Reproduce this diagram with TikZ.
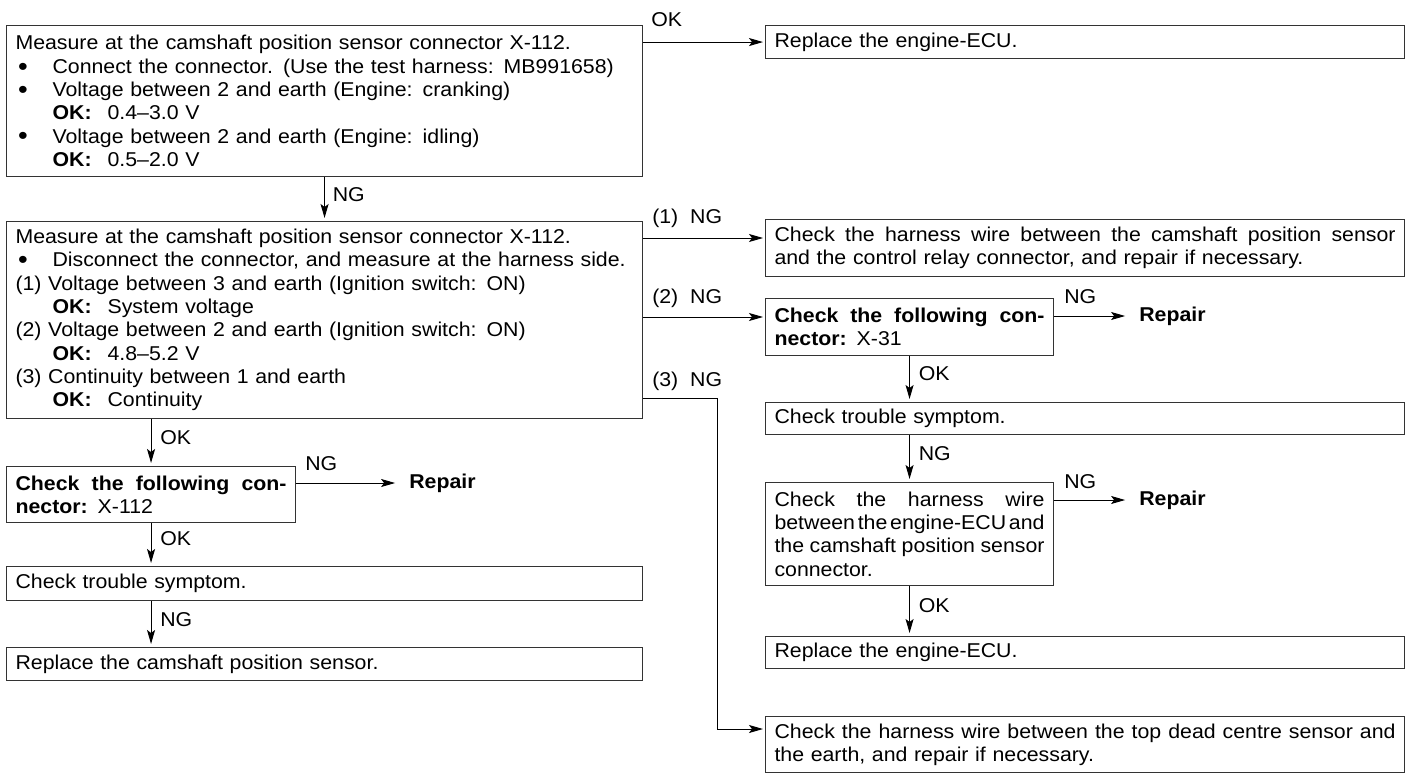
\documentclass[tikz,border=0pt]{standalone}
\usepackage{fontspec}
\setmainfont{Liberation Sans}[WordSpace=2.0, FakeStretch=1.065]
\usetikzlibrary{arrows.meta}
\newcommand{\bul}{\makebox[37pt][l]{\hspace{2.5pt}\smash{\raisebox{-1.8pt}{\fontsize{26}{20}\selectfont\textbullet}}}}
\newcommand{\ind}{\hspace*{37pt}}
\newcommand{\okv}{\textbf{OK:}\hspace{0.8em}}
\newcommand{\jline}[1]{\makebox[\hsize][s]{\spaceskip=0.1em plus 1fil\relax #1}}

\begin{document}
\begin{tikzpicture}[x=1pt, y=-1pt,
  font=\fontsize{20}{23.3}\selectfont,
  chk/.style={draw=black!80, line width=1.1pt, anchor=north west, align=left,
    inner xsep=9pt, inner ysep=0pt},
  arr/.style={-{Stealth[length=14pt,width=8pt,inset=3pt]}, line width=1pt, shorten >=2pt},
  lbl/.style={anchor=base west, inner sep=0pt},
  rep/.style={anchor=west, inner xsep=12pt, font=\fontsize{20}{23.3}\selectfont\bfseries}
]
\useasboundingbox (0,0) rectangle (1413,773);

\node[chk, text width=618pt, minimum height=151pt] (meas1) at (6,25)
  {Measure at the camshaft position sensor connector X-112.\\
   \bul\mbox{Connect the connector. (Use the test harness: MB991658)}\\
   \bul Voltage between 2 and earth (Engine: cranking)\\
   \ind\okv 0.4\textendash3.0 V\\
   \bul Voltage between 2 and earth (Engine: idling)\\
   \ind\okv 0.5\textendash2.0 V};
\node[chk, text width=621pt, minimum height=33pt] (ecu1) at (765,25) {Replace the engine-ECU.};
\node[chk, text width=618pt, minimum height=197pt] (meas2) at (6,221)
  {Measure at the camshaft position sensor connector X-112.\\
   \bul\mbox{Disconnect the connector, and measure at the harness side.}\\
   (1) Voltage between 3 and earth (Ignition switch: ON)\\
   \ind\okv System voltage\\
   (2) Voltage between 2 and earth (Ignition switch: ON)\\
   \ind\okv 4.8\textendash5.2 V\\
   (3) Continuity between 1 and earth\\
   \ind\okv Continuity};
\node[chk, text width=621pt, minimum height=57pt] (wire1) at (765,219)
  {\jline{Check the harness wire between the camshaft position sensor}\\
   and the control relay connector, and repair if necessary.};
\node[chk, text width=270pt, minimum height=57pt] (conn31) at (765,298)
  {\jline{\textbf{Check the following con-}}\\\textbf{nector:} X-31};
\node[chk, text width=621pt, minimum height=32pt] (symp2) at (765,402) {Check trouble symptom.};
\node[chk, text width=270pt, minimum height=103pt] (wire2) at (765,482)
  {\jline{Check the harness wire}\\
   \jline{between the engine-ECU and}\\
   \jline{the camshaft position sensor}\\
   connector.};
\node[chk, text width=621pt, minimum height=32pt] (ecu2) at (765,636) {Replace the engine-ECU.};
\node[chk, text width=621pt, minimum height=56pt] (wire3) at (765,716)
  {\jline{Check the harness wire between the top dead centre sensor and}\\
   the earth, and repair if necessary.};
\node[chk, text width=271pt, minimum height=56pt] (conn112) at (6,466)
  {\jline{\textbf{Check the following con-}}\\\textbf{nector:} X-112};
\node[chk, text width=618pt, minimum height=34pt] (symp1) at (6,566) {Check trouble symptom.};
\node[chk, text width=618pt, minimum height=33pt] (sens) at (6,647) {Replace the camshaft position sensor.};

\coordinate (ok1) at (meas1.east |- ecu1.west);
\coordinate (w1 in) at ([yshift=-19pt]wire1.north west);
\coordinate (c31 in) at ([yshift=-19pt]conn31.north west);
\coordinate (w3 in) at ([yshift=-13pt]wire3.north west);
\coordinate (b1) at (meas2.east |- w1 in);
\coordinate (b2) at (meas2.east |- c31 in);
\coordinate (b3) at ([yshift=21pt]meas2.south east);
\coordinate (c31 out) at ([yshift=-18pt]conn31.north east);
\coordinate (w2 out) at ([yshift=-18pt]wire2.north east);
\coordinate (c112 out) at ([yshift=-17pt]conn112.north east);

\node[rep] (rep1) at ([xshift=73pt]c31 out) {Repair};
\node[rep] (rep2) at ([xshift=73pt]w2 out) {Repair};
\node[rep] (rep3) at ([xshift=101pt]c112 out) {Repair};

\draw[arr] (ok1) -- (ecu1.west);
\draw[arr, shorten >=3pt] (meas1.south) -- (meas2.north);
\draw[arr] (b1) -- (w1 in);
\draw[arr] (b2) -- (c31 in);
\draw[arr] (b3) -- ++(74,0) |- (w3 in);
\draw[arr] (c31 out) -- (rep1);
\draw[arr, shorten >=3pt] (conn31.south) -- (conn31.south |- symp2.north);
\draw[arr, shorten >=3pt] (conn31.south |- symp2.south) -- (wire2.north);
\draw[arr] (w2 out) -- (rep2);
\draw[arr, shorten >=3pt] (wire2.south) -- (wire2.south |- ecu2.north);
\draw[arr, shorten >=3pt] (conn112.north |- meas2.south) -- (conn112.north);
\draw[arr] (c112 out) -- (rep3);
\draw[arr, shorten >=3pt] (conn112.south) -- (conn112.south |- symp1.north);
\draw[arr, shorten >=3pt] (conn112.south |- symp1.south) -- (conn112.south |- sens.north);

\node[lbl] at ([xshift=8pt,yshift=16pt]ok1) {OK};
\node[lbl] at ([xshift=8pt,yshift=-24pt]meas1.south) {NG};
\node[lbl] at ([xshift=9pt,yshift=15pt]b1) {(1) NG};
\node[lbl] at ([xshift=9pt,yshift=14pt]b2) {(2) NG};
\node[lbl] at ([xshift=9pt,yshift=12pt]b3) {(3) NG};
\node[lbl] at ([xshift=10pt,yshift=13pt]c31 out) {NG};
\node[lbl] at ([xshift=10pt,yshift=12pt]w2 out) {NG};
\node[lbl] at ([xshift=9pt,yshift=13pt]c112 out) {NG};
\node[lbl] at ([xshift=9pt,yshift=-25pt]conn112.north |- meas2.south) {OK};
\node[lbl] at ([xshift=9pt,yshift=-22pt]conn112.south) {OK};
\node[lbl] at ([xshift=9pt,yshift=-25pt]conn112.south |- symp1.south) {NG};
\node[lbl] at ([xshift=9pt,yshift=-24pt]conn31.south) {OK};
\node[lbl] at ([xshift=9pt,yshift=-25pt]conn31.south |- symp2.south) {NG};
\node[lbl] at ([xshift=9pt,yshift=-26pt]wire2.south) {OK};
\end{tikzpicture}
\end{document}
